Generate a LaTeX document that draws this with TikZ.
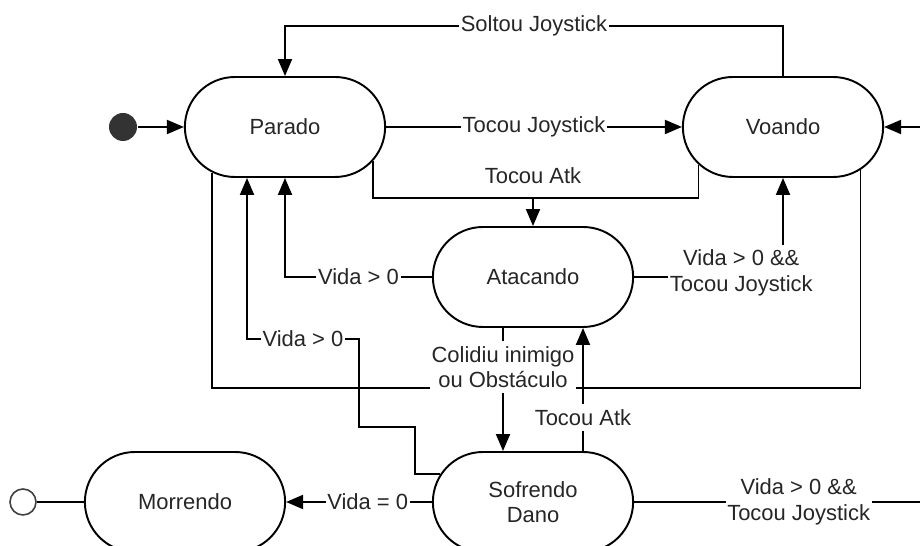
\documentclass[tikz,border=0pt]{standalone}
\usepackage{fontspec}
\setmainfont{Liberation Sans}
\usepackage{tikz}
\usetikzlibrary{arrows.meta,shapes.misc,positioning}

\begin{document}
\begin{tikzpicture}[x=0.02cm, y=-0.02cm, line width=1.1pt,
    every node/.style={font=\fontsize{12.5}{14.5}\selectfont, text=black!85},
    state/.style={rounded rectangle, draw, fill=white, minimum width=4.24cm, minimum height=2cm},
    lbl/.style={fill=white, inner xsep=1pt, inner ysep=3pt, align=center},
    arr/.style={-{Triangle[length=0.34cm, width=0.28cm]}}]

    % Frame (the diagram is cut at the bottom and right)
    \useasboundingbox (0,0) rectangle (920,546);
    \clip (0,0) rectangle (920,546);

    % States
    \node[circle, fill=black!80, minimum size=0.56cm, inner sep=0pt] (init) at (123,127) {};
    \node[state] (parado) at (285,127) {Parado};
    \node[state] (voando) at (783,127) {Voando};
    \node[state] (atacando) at (533,277) {Atacando};
    \node[state, align=center] (sofrendo) at (533,502) {Sofrendo\\Dano};
    \node[state] (morrendo) at (185,502) {Morrendo};
    \node[circle, draw=black!75, line width=0.9pt, minimum size=0.52cm, inner sep=0pt] (final) at (23,502) {};

    % Bend points
    \coordinate (atkjoin) at (533,198);
    \coordinate (colj) at (503,388);
    \coordinate (stepA) at (415,427);
    \coordinate (stepB) at (359,339);
    \coordinate (offright) at (960,502);

    % Transitions
    \draw[arr] (init) -- (parado);
    \draw[arr] (voando.north) -- ++(0,-50) -| node[lbl, pos=0.25] (soltou) {Soltou Joystick} (parado.north);
    \draw[arr] (parado) -- node[lbl] (tocoujoy) {Tocou Joystick} (voando);

    \draw (parado.-21) |- (atkjoin);
    \draw[arr] (voando.-156) |- (atkjoin) -- (atacando.north);
    \node[above=4pt] (tocouatk) at (atkjoin) {Tocou Atk};

    \draw[arr] (atacando.west) -| node[lbl, pos=0.25] (vidaA) {Vida > 0} (parado.south);
    \draw[arr] (atacando.east) -| node[lbl, pos=0.36, yshift=0.08cm] (vidaB) {Vida > 0 \&\&\\Tocou Joystick} (voando.south);

    \draw (parado.-148) |- (colj);
    \draw (voando.-29) |- (colj);
    \draw[arr] (atacando.south -| colj) -- node[lbl, pos=0.32] (colidiu) {Colidiu inimigo\\ou Obstáculo} (sofrendo.north -| colj);

    \draw[arr] ([xshift=1cm]sofrendo.north) -- node[lbl, pos=0.27] (tocouatkB) {Tocou Atk} ([xshift=1cm]atacando.south);

    \draw[arr] (sofrendo.163) -| (stepA) -| (stepB) -| node[lbl, pos=0.25] (vidaC) {Vida > 0} ([xshift=-0.76cm]parado.south);

    \draw[arr] (sofrendo.west) -- node[lbl, pos=0.44] (vidazero) {Vida = 0} (morrendo.east);
    \draw (morrendo.west) -- (final);

    \draw[arr] (sofrendo.east) -- node[lbl, pos=0.505] (vidaD) {Vida > 0 \&\&\\Tocou Joystick} (offright) |- (voando.east);
\end{tikzpicture}
\end{document}
